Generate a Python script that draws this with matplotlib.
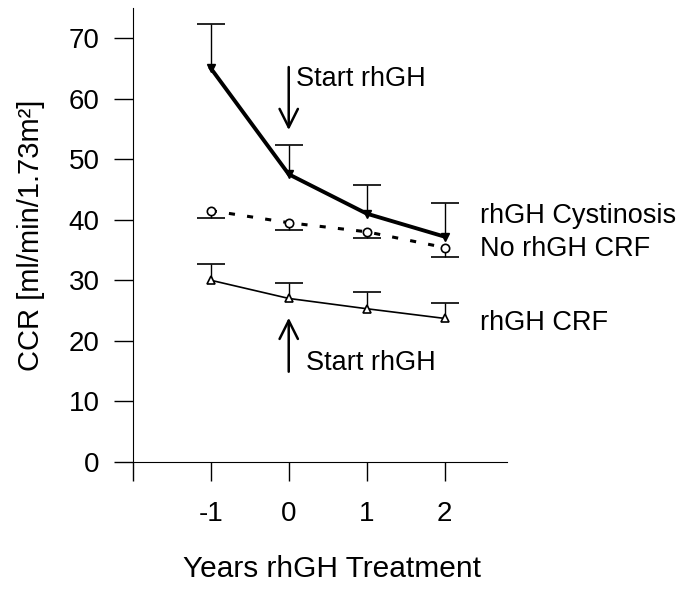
import matplotlib
matplotlib.use("Agg")
import matplotlib.pyplot as plt
import numpy as np

years = [-1, 0, 1, 2]
cyst = [65.0, 47.5, 41.0, 37.2]
cyst_err = [7.3, 4.8, 4.8, 5.6]
no_crf = [41.5, 39.5, 38.0, 35.4]
no_crf_err = [1.2, 1.2, 1.0, 1.5]
gh_crf = [30.0, 27.0, 25.3, 23.7]
gh_crf_err = [2.7, 2.5, 2.7, 2.5]

series_labels = ["rhGH Cystinosis", "No rhGH CRF", "rhGH CRF"]
xticks = [-2, -1, 0, 1, 2]
xticklabels = ["", "-1", "0", "1", "2"]
yticks = [0, 10, 20, 30, 40, 50, 60, 70]

plt.rcParams['font.family'] = ['Liberation Sans', 'DejaVu Sans']

fig = plt.figure(figsize=(6.85, 5.9), dpi=100)
ax = fig.add_axes([0.194, 0.217, 0.546, 0.77])


def one_sided(x, y, err, sign):
    x = np.asarray(x)
    y = np.asarray(y)
    end = y + sign * np.asarray(err)
    ax.vlines(x, y, end, color='black', lw=1.0)
    ax.plot(x, end, ls='none', marker='_', ms=20, mew=1.2, color='black')


one_sided(years, cyst, cyst_err, 1)
ax.plot(years, cyst, '-', color='black', lw=2.8, marker='v', ms=6,
        mfc='black', mec='black')

one_sided(years, no_crf, no_crf_err, -1)
ax.plot(years, no_crf, color='black', lw=2.2, ls=(0, (2, 4)), marker='o', ms=6,
        mfc='white', mec='black', mew=1.2)

one_sided(years, gh_crf, gh_crf_err, 1)
ax.plot(years, gh_crf, '-', color='black', lw=1.2, marker='^', ms=6,
        mfc='white', mec='black', mew=1.2)

ax.set_xlim(-2, 2.8)
ax.set_ylim(0, 75)
ax.set_xticks(xticks)
ax.set_xticklabels(xticklabels)
ax.set_yticks(yticks)
ax.tick_params(direction='out', length=14, width=1, labelsize=20, pad=14)
ax.tick_params(axis='y', pad=10)
for s in ['top', 'right']:
    ax.spines[s].set_visible(False)

ax.set_ylabel("CCR [ml/min/1.73m²]", fontsize=21, labelpad=17)
ax.set_xlabel("Years rhGH Treatment", fontsize=21.5)
ax.xaxis.set_label_coords(0.532, -0.205)

arrow_style = dict(arrowstyle='->,head_length=0.6,head_width=0.3', lw=1.8,
                   color='black', mutation_scale=22, shrinkA=0, shrinkB=0)
ax.annotate("", xy=(0, 54.8), xytext=(0, 65.2), arrowprops=arrow_style)
ax.text(0.09, 63.2, "Start rhGH", fontsize=19.5, va='center', ha='left')
ax.annotate("", xy=(0, 23.8), xytext=(0, 14.9), arrowprops=arrow_style)
ax.text(0.22, 16.3, "Start rhGH", fontsize=19.5, va='center', ha='left')

label_y = [40.6, 35.1, 23.0]
for lab, yv in zip(series_labels, label_y):
    ax.text(2.45, yv, lab, fontsize=19.5, va='center', ha='left', clip_on=False)

fig.savefig("out.png", dpi=100)
